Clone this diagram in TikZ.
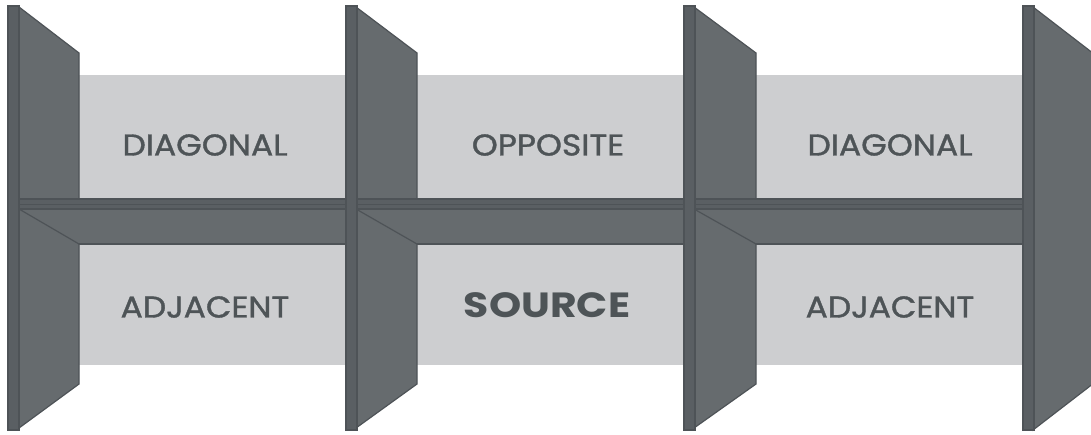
\documentclass[tikz,border=0pt]{standalone}
\usepackage{fontspec}
\setmainfont{Poppins}
\newfontfamily\medfont{Poppins}[FakeStretch=1.1,FakeBold=1.2]
\newfontfamily\boldstretch{Poppins Bold}[FakeStretch=1.17]
\definecolor{light}{HTML}{CDCED0}
\definecolor{panel}{HTML}{666B6E}
\definecolor{edge}{HTML}{4E5357}
\definecolor{stripc}{HTML}{5A5F63}
\definecolor{txt}{HTML}{4E5457}
\begin{document}
\begin{tikzpicture}[x=1pt,y=-1pt,
  panelshape/.style={fill=panel,draw=edge,line width=1.2pt,line join=miter},
  stripshape/.style={fill=stripc,draw=edge,line width=1.5pt},
  lightbox/.style={fill=light},
  lbl/.style={text=txt,font=\medfont\fontsize{30}{32}\selectfont},
  lblbold/.style={text=txt,font=\boldstretch\fontsize{35}{37}\selectfont}]
\useasboundingbox (0,0) rectangle (1091,434);
\fill[white] (0,0) rectangle (1091,434);
% light panels
\foreach \a/\b in {79/346, 417/684, 756/1023}{
  \fill[lightbox] (\a,75) rectangle (\b,199);
  \fill[lightbox] (\a,244) rectangle (\b,365);
}
% beam
\draw[panelshape] (19,209) rectangle (1023,244);
% walls
\foreach \s/\p/\q in {8/19/79, 346/356/417, 684/694/756}{
  \draw[panelshape] (\p,7) -- (\q,53) -- (\q,199) -- (\p,199) -- cycle;
  \draw[panelshape] (\p,209) -- (\q,244) -- (\q,384) -- (\p,428) -- cycle;
}
\draw[panelshape] (1033,7) -- (1094,54) -- (1094,383) -- (1033,430) -- cycle;
% horizontal thin strip
\draw[stripshape] (8,199) rectangle (1033,209);
\draw[edge,line width=0.6pt] (8,204) -- (1033,204);
% vertical strips
\foreach \s in {8, 346, 684, 1023}{
  \draw[stripshape] (\s,6) rectangle ({\s+11},430);
}
% labels
\node[lbl] (d1) at (205,145) {DIAGONAL};
\node[lbl] (op) at (548,145) {OPPOSITE};
\node[lbl] (d2) at (890,145) {DIAGONAL};
\node[lbl] (a1) at (205,307) {ADJACENT};
\node[lblbold] (src) at (547,305) {SOURCE};
\node[lbl] (a2) at (890,307) {ADJACENT};
\end{tikzpicture}
\end{document}
